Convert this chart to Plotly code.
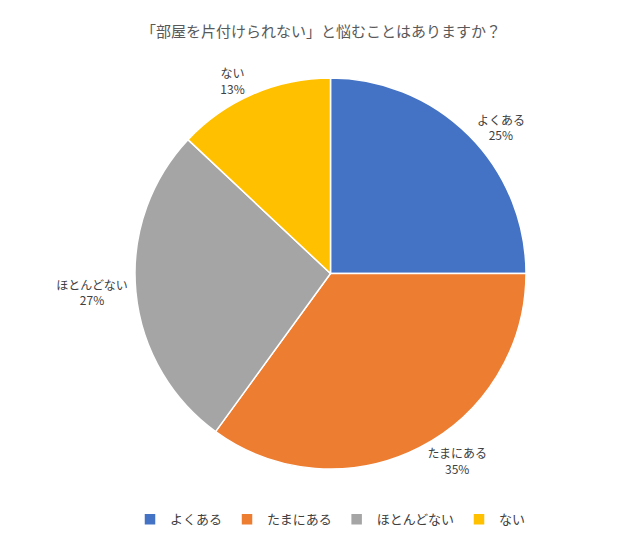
import plotly.graph_objects as go

labels = ["よくある", "たまにある", "ほとんどない", "ない"]
values = [25, 35, 27, 13]
colors = ["#4472C4", "#ED7D31", "#A5A5A5", "#FFC000"]

font = "Noto Sans CJK JP"

fig = go.Figure(go.Pie(
    labels=labels,
    values=values,
    sort=False,
    direction="clockwise",
    rotation=0,
    marker=dict(colors=colors, line=dict(color="white", width=1.5)),
    textposition="outside",
    texttemplate="%{label}<br>%{percent:.0%}",
    textfont=dict(size=12, color="#404040", family=font),
    domain=dict(x=[0.0, 1.0], y=[0.0, 1.0]),
))

fig.update_layout(
    width=626,
    height=538,
    title=dict(text="「部屋を片付けられない」と悩むことはありますか？",
               x=0.5, y=0.965, xanchor="center",
               font=dict(size=15, color="#595959", family=font)),
    margin=dict(l=34, r=86, t=70, b=70),
    legend=dict(orientation="h", x=0.5, xanchor="center", y=-0.09, yanchor="top",
                font=dict(size=13, color="#404040", family=font)),
    paper_bgcolor="white",
    font=dict(family=font),
)

fig.write_html("out.html")
